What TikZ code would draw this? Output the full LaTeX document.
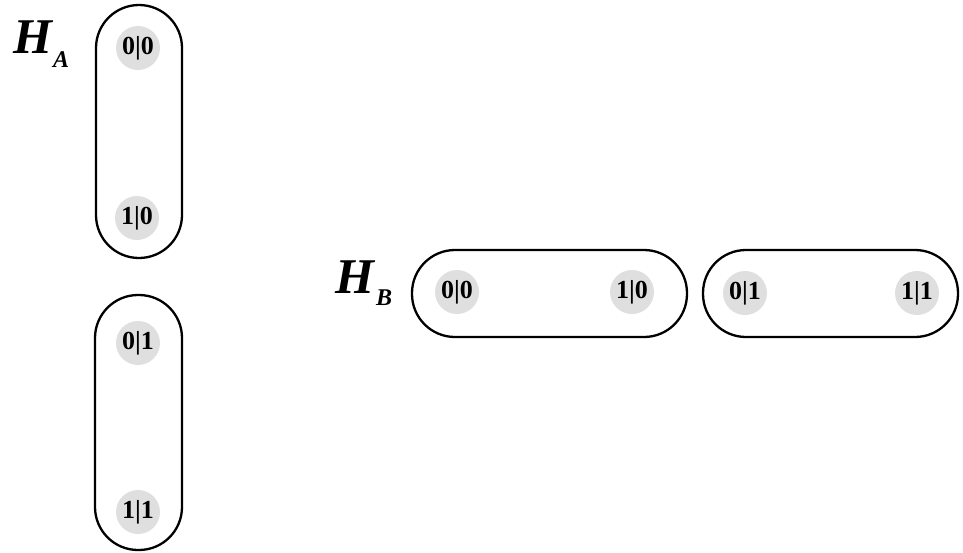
\documentclass[tikz,border=0pt]{standalone}
\usepackage{fontspec}
\setmainfont{Liberation Serif}
\begin{document}
\begin{tikzpicture}[x=1pt,y=-1pt,
  capsule/.style={draw=black,line width=2.3pt},
  st/.style={circle,fill=gray!25,minimum size=44pt,inner sep=0pt,font=\fontsize{26}{26}\selectfont\bfseries},
  lab/.style={font=\fontsize{50}{50}\selectfont\bfseries\itshape,inner sep=0pt}]
\useasboundingbox (0,0) rectangle (963,552);
% capsules
\draw[capsule,rounded corners=43pt] (96,5) rectangle (182,258);
\draw[capsule,rounded corners=43pt] (95,295) rectangle (182,550);
\draw[capsule,rounded corners=43pt] (412,250) rectangle (687,337);
\draw[capsule,rounded corners=43pt] (703,250) rectangle (958,337);
% states
\node[st] (a00) at (138,48) {0|0};
\node[st] (a10) at (137,218) {1|0};
\node[st] (a01) at (138,343) {0|1};
\node[st] (a11) at (138,512) {1|1};
\node[st] (b00) at (457,292) {0|0};
\node[st] (b10) at (632,292) {1|0};
\node[st] (b01) at (745,293) {0|1};
\node[st] (b11) at (917,293) {1|1};
% labels
\node[lab,anchor=base west] (ha) at (13,53) {H\hspace{1pt}\raisebox{-14pt}{\fontsize{24}{24}\selectfont A}};
\node[lab,anchor=base west] (hb) at (335,293) {H\hspace{2pt}\raisebox{-12pt}{\fontsize{24}{24}\selectfont B}};
\end{tikzpicture}
\end{document}
